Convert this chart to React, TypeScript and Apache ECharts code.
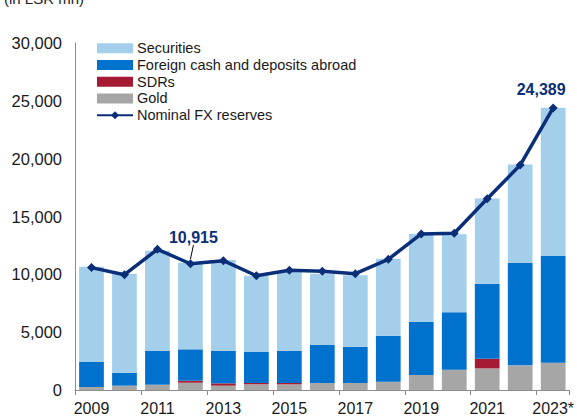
import React, { useEffect, useRef } from "react";
import * as echarts from "echarts";

const categories = ["2009", "2010", "2011", "2012", "2013", "2014", "2015", "2016", "2017", "2018", "2019", "2020", "2021", "2022", "2023*"];
const gold = [260, 375, 460, 630, 375, 490, 490, 605, 605, 720, 1300, 1760, 1870, 2130, 2360];
const sdrs = [0, 0, 0, 175, 200, 115, 115, 0, 0, 0, 0, 0, 835, 0, 0];
const foreignCash = [2190, 1120, 2940, 2710, 2825, 2680, 2795, 3285, 3140, 3975, 4610, 4955, 6485, 8875, 9220];
const securities = [8210, 8560, 8645, 7490, 7840, 6600, 6830, 6165, 6165, 6655, 7580, 6745, 7375, 8500, 12820];
const nominalFx = [10580, 9970, 12160, 10915, 11180, 9880, 10350, 10260, 10060, 11300, 13490, 13550, 16540, 19450, 24389];
const labelledIdx = [3, 14];
const yTicks = { min: 0, max: 30000, interval: 5000 };

const FONT = "'Liberation Sans', Arial, sans-serif";
const NAVY = "#0a2f78";

export default function App() {
  const ref = useRef<HTMLDivElement>(null);
  useEffect(() => {
    if (!ref.current) return;
    const chart = echarts.init(ref.current, null, { renderer: "svg" });
    const lastIdx = nominalFx.length - 1;
    const lineData = nominalFx.map((v, i) => {
      if (!labelledIdx.includes(i)) return v;
      const isLast = i === lastIdx;
      return {
        value: v,
        label: {
          show: true,
          position: "top",
          formatter: (p: any) => Number(p.value).toLocaleString("en-US"),
          color: NAVY,
          fontWeight: "bold",
          fontSize: 16,
          fontFamily: FONT,
        },
        labelLine: { show: !isLast, lineStyle: { color: "#000", width: 1 }, length2: 0 },
      };
    });
    chart.setOption({
      animation: false,
      textStyle: { fontFamily: FONT },
      grid: { left: 75, right: 5, top: 43, bottom: 28, containLabel: false },
      graphic: [
        {
          type: "text",
          left: 4,
          top: -9,
          style: { text: "(in LSR mn)", font: `15px ${FONT}`, fill: "#222" },
        },
      ],
      legend: {
        orient: "vertical",
        left: 96,
        top: 40,
        padding: 0,
        itemWidth: 36,
        itemHeight: 10,
        itemGap: 0,
        textStyle: { fontSize: 14.5, fontFamily: FONT, color: "#1a1a1a", lineHeight: 16.7, padding: [0, 0, 0, -1] },
        data: [
          { name: "Securities", icon: "rect" },
          { name: "Foreign cash and deposits abroad", icon: "rect" },
          { name: "SDRs", icon: "rect" },
          { name: "Gold", icon: "rect" },
          { name: "Nominal FX reserves" },
        ],
      },
      xAxis: {
        type: "category",
        data: categories,
        axisLine: { lineStyle: { color: "#8c8c8c", width: 1 } },
        axisTick: { show: true, length: 5, lineStyle: { color: "#8c8c8c" } },
        axisLabel: { interval: 1, color: "#1a1a1a", fontSize: 16, fontFamily: FONT, margin: 10 },
      },
      yAxis: {
        type: "value",
        min: yTicks.min,
        max: yTicks.max,
        interval: yTicks.interval,
        axisLine: { show: true, lineStyle: { color: "#8c8c8c", width: 1 } },
        axisTick: { show: false },
        splitLine: { show: false },
        axisLabel: {
          color: "#1a1a1a",
          fontSize: 16.5,
          fontFamily: FONT,
          margin: 13,
          formatter: (v: number) => v.toLocaleString("en-US"),
        },
      },
      series: [
        { name: "Gold", type: "bar", stack: "fx", data: gold, barWidth: "75%", itemStyle: { color: "#a6a6a6" } },
        { name: "SDRs", type: "bar", stack: "fx", data: sdrs, itemStyle: { color: "#a51b33" } },
        { name: "Foreign cash and deposits abroad", type: "bar", stack: "fx", data: foreignCash, itemStyle: { color: "#0071cc" } },
        { name: "Securities", type: "bar", stack: "fx", data: securities, itemStyle: { color: "#a3cfeb" } },
        {
          name: "Nominal FX reserves",
          type: "line",
          data: lineData,
          symbol: "diamond",
          symbolSize: 9,
          lineStyle: { color: NAVY, width: 3.5 },
          itemStyle: { color: NAVY },
          labelLayout: (p: any) =>
            p.dataIndex === 3 ? { dx: 3, dy: -9 } : p.dataIndex === lastIdx ? { dx: -12, dy: -1 } : {},
          z: 5,
        },
      ],
    });
    return () => chart.dispose();
  }, []);
  return <div ref={ref} style={{ width: 577, height: 418, position: "absolute", left: 0, top: 0 }} />;
}
